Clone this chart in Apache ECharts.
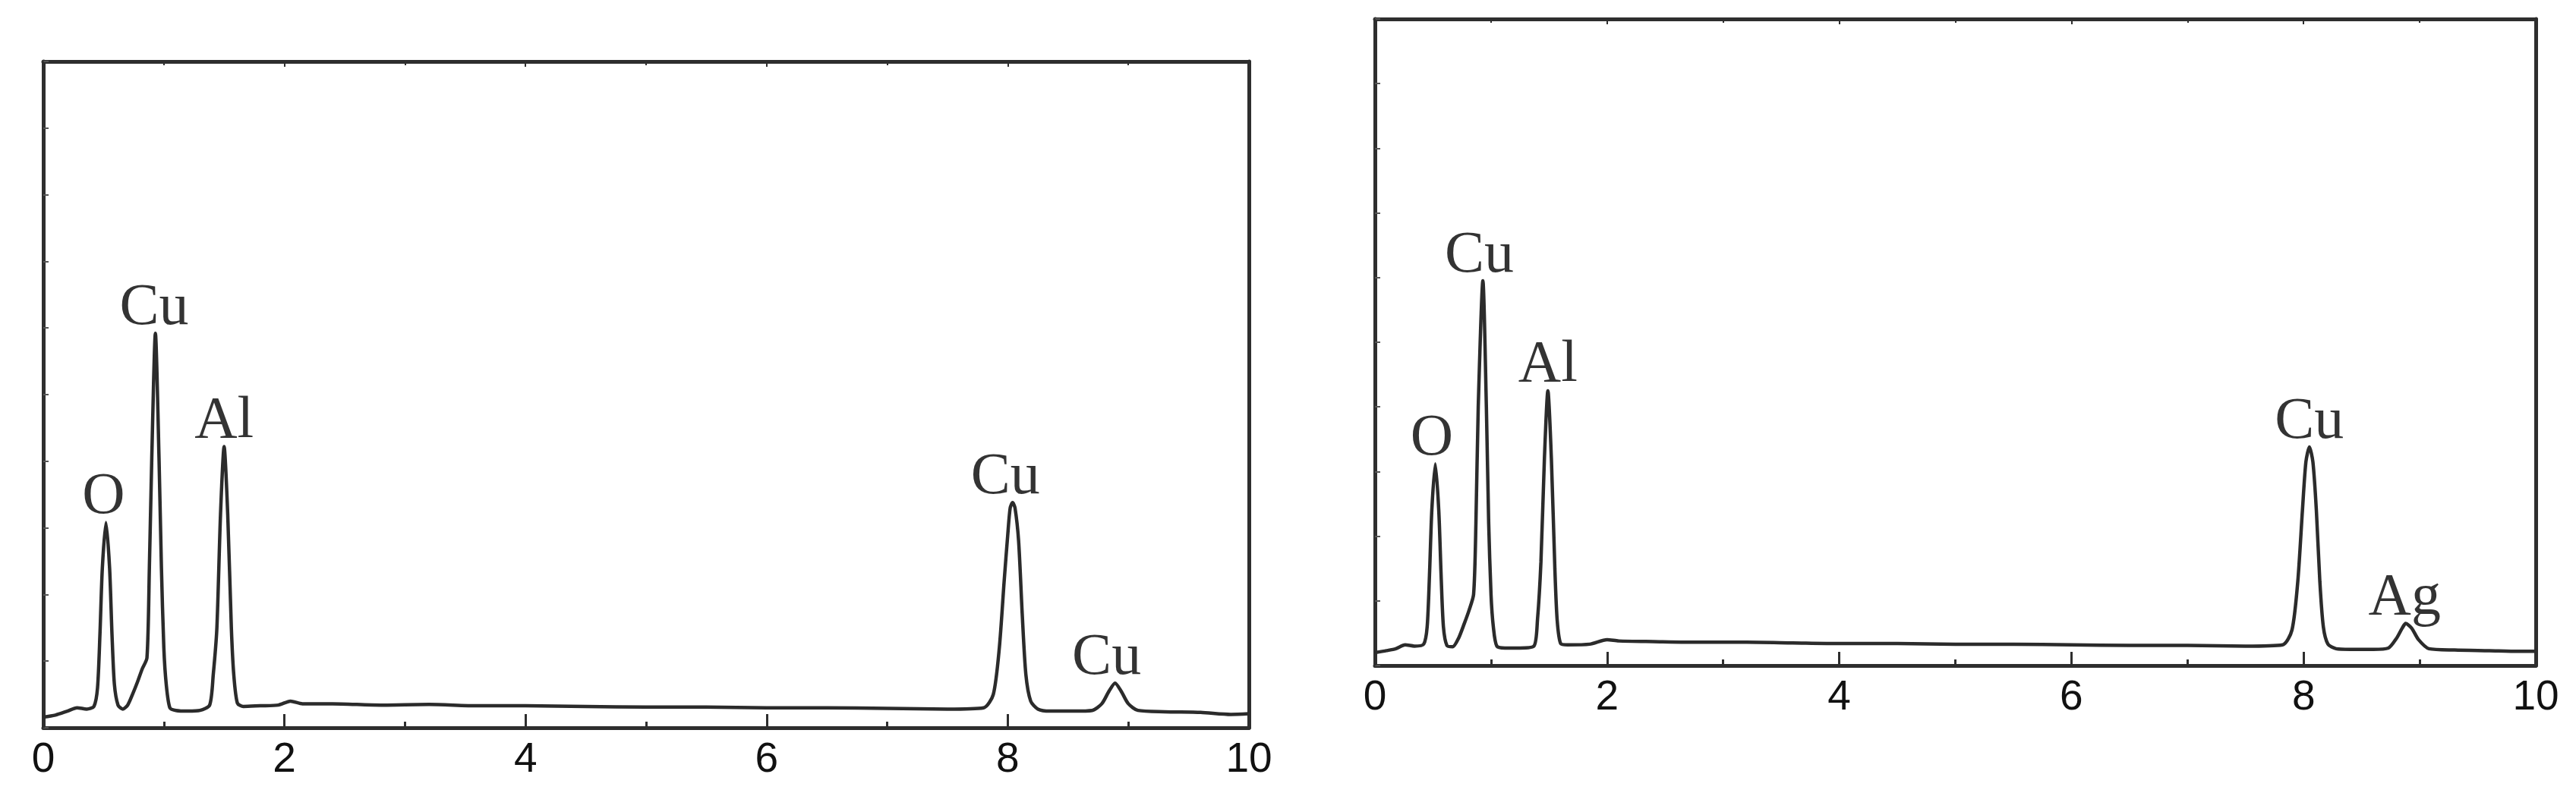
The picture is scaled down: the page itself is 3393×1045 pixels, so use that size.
<!DOCTYPE html>
<html>
<head>
<meta charset="utf-8">
<script src="https://cdn.jsdelivr.net/npm/echarts@6/dist/echarts.min.js"></script>
<style>
  html, body { margin: 0; padding: 0; background: #fff; }
  #chart { width: 3393px; height: 1045px; }
</style>
</head>
<body>
<div id="chart"></div>
<script>
// energy (keV) / relative counts
var leftEnergy = [0.00, 0.10, 0.20, 0.28, 0.36, 0.42, 0.45, 0.47, 0.49, 0.52, 0.55, 0.57, 0.59, 0.62, 0.66, 0.70, 0.74, 0.78, 0.82, 0.86, 0.88, 0.90, 0.93, 0.96, 0.98, 1.00, 1.02, 1.05, 1.10, 1.20, 1.30, 1.38, 1.41, 1.44, 1.47, 1.50, 1.53, 1.56, 1.58, 1.61, 1.66, 1.80, 1.95, 2.05, 2.15, 2.40, 2.80, 3.20, 3.60, 4.00, 4.50, 5.00, 5.50, 6.00, 6.50, 7.00, 7.50, 7.80, 7.88, 7.93, 7.97, 8.00, 8.02, 8.04, 8.06, 8.09, 8.12, 8.15, 8.19, 8.25, 8.35, 8.55, 8.70, 8.78, 8.84, 8.89, 8.94, 9.00, 9.08, 9.30, 9.60, 9.85, 10.00];
var leftCounts = [1.6, 1.9, 2.5, 3.0, 2.8, 3.2, 6.0, 14.0, 24.0, 30.8, 24.0, 14.0, 6.5, 3.4, 2.8, 3.4, 5.0, 6.8, 8.8, 10.5, 24.0, 40.5, 59.2, 40.5, 24.0, 12.0, 6.5, 3.0, 2.6, 2.5, 2.6, 3.4, 8.0, 15.0, 32.0, 42.2, 32.0, 15.0, 8.0, 3.7, 3.2, 3.3, 3.4, 4.0, 3.6, 3.6, 3.4, 3.5, 3.3, 3.3, 3.2, 3.1, 3.1, 3.0, 3.0, 2.9, 2.8, 3.0, 5.0, 12.0, 22.0, 29.0, 33.0, 33.8, 33.0, 28.0, 17.0, 8.0, 4.0, 2.8, 2.5, 2.5, 2.6, 3.6, 5.5, 6.7, 5.5, 3.6, 2.6, 2.4, 2.3, 2.0, 2.1];

// right spectrum
var rightEnergy = [0.00, 0.10, 0.18, 0.26, 0.34, 0.42, 0.45, 0.47, 0.49, 0.52, 0.55, 0.57, 0.59, 0.62, 0.67, 0.72, 0.77, 0.81, 0.85, 0.87, 0.89, 0.93, 0.96, 0.98, 1.00, 1.02, 1.05, 1.12, 1.25, 1.37, 1.40, 1.43, 1.46, 1.49, 1.52, 1.55, 1.57, 1.60, 1.66, 1.85, 2.00, 2.10, 2.40, 2.80, 3.20, 3.60, 4.00, 4.50, 5.00, 5.50, 6.00, 6.50, 7.00, 7.50, 7.82, 7.90, 7.95, 7.99, 8.02, 8.05, 8.08, 8.11, 8.14, 8.17, 8.21, 8.28, 8.40, 8.60, 8.73, 8.80, 8.85, 8.88, 8.93, 8.99, 9.08, 9.30, 9.60, 9.85, 10.00];
var rightCounts = [2.0, 2.3, 2.6, 3.2, 3.0, 3.3, 6.0, 14.0, 24.0, 31.2, 24.0, 14.0, 6.0, 3.1, 2.9, 4.2, 6.5, 8.5, 11.0, 22.0, 40.0, 59.5, 40.0, 22.0, 11.0, 6.0, 3.0, 2.7, 2.7, 3.0, 7.0, 16.0, 32.0, 42.5, 32.0, 15.0, 7.0, 3.4, 3.2, 3.3, 4.0, 3.8, 3.7, 3.6, 3.6, 3.5, 3.4, 3.4, 3.3, 3.3, 3.2, 3.1, 3.1, 3.0, 3.2, 5.5, 13.0, 24.0, 31.5, 33.8, 31.5, 24.0, 13.0, 6.0, 3.3, 2.6, 2.5, 2.5, 2.7, 4.2, 5.8, 6.5, 5.8, 4.0, 2.6, 2.4, 2.3, 2.2, 2.2];

// peak labels (placed just above each peak)
var leftLabelNames = ['O', 'Cu', 'Al', 'Cu', 'Cu'];
var leftLabelEnergy = [0.50, 0.92, 1.50, 7.98, 8.82];
var leftLabelCounts = [30.8, 59.2, 42.2, 33.8, 6.7];

var rightLabelNames = ['O', 'Cu', 'Al', 'Cu', 'Ag'];
var rightLabelEnergy = [0.49, 0.90, 1.49, 8.05, 8.87];
var rightLabelCounts = [31.2, 59.5, 42.5, 33.8, 6.5];

var xTicks = [0, 2, 4, 6, 8, 10];

function zip(a, b) {
  return a.map(function (v, i) { return [v, b[i]]; });
}
function labelData(xs, ys, names) {
  return xs.map(function (v, i) { return { value: [v, ys[i]], name: names[i] }; });
}

var lineColor = '#2b2b2b';
var axisColor = '#2e2e2e';

function bottomAxis(grid) {
  return {
    type: 'value', gridIndex: grid, position: 'bottom',
    min: 0, max: 10, interval: 2,
    axisLine: { show: true, onZero: false, lineStyle: { color: axisColor, width: 5 } },
    axisTick: { show: true, inside: true, length: 18, lineStyle: { color: axisColor, width: 3 } },
    minorTick: { show: true, splitNumber: 2, length: 8, lineStyle: { color: axisColor, width: 3 } },
    splitLine: { show: false },
    axisLabel: {
      show: true, margin: 15, color: '#111',
      fontFamily: 'Liberation Sans', fontSize: 55,
      formatter: function (v) { return xTicks.indexOf(v) >= 0 ? String(v) : ''; }
    }
  };
}
function topAxis(grid) {
  return {
    type: 'value', gridIndex: grid, position: 'top',
    min: 0, max: 10, interval: 2,
    axisLine: { show: true, onZero: false, lineStyle: { color: axisColor, width: 5 } },
    axisTick: { show: true, inside: true, length: 7, lineStyle: { color: axisColor, width: 2 } },
    minorTick: { show: true, splitNumber: 2, length: 5, lineStyle: { color: axisColor, width: 2 } },
    splitLine: { show: false },
    axisLabel: { show: false }
  };
}
function leftAxis(grid) {
  return {
    type: 'value', gridIndex: grid, position: 'left',
    min: 0, max: 100, interval: 10,
    axisLine: { show: true, onZero: false, lineStyle: { color: axisColor, width: 5 } },
    axisTick: { show: true, inside: true, length: 7, lineStyle: { color: '#555', width: 2 } },
    splitLine: { show: false },
    axisLabel: { show: false }
  };
}
function rightAxis(grid) {
  return {
    type: 'value', gridIndex: grid, position: 'right',
    min: 0, max: 100,
    axisLine: { show: true, onZero: false, lineStyle: { color: axisColor, width: 5 } },
    axisTick: { show: false },
    splitLine: { show: false },
    axisLabel: { show: false }
  };
}

function spectrum(grid, data) {
  return {
    type: 'line', xAxisIndex: grid * 2, yAxisIndex: grid * 2,
    data: data, showSymbol: false, smooth: 0.25,
    lineStyle: { color: lineColor, width: 4.5 },
    silent: true
  };
}
function peakLabels(grid, data) {
  return {
    type: 'scatter', xAxisIndex: grid * 2, yAxisIndex: grid * 2,
    data: data, symbolSize: 0, silent: true, z: 5,
    label: {
      show: true, position: 'top', distance: -6,
      formatter: '{b}', color: '#000',
      fontFamily: 'Liberation Serif', fontSize: 78
    }
  };
}

var myChart = echarts.init(document.getElementById('chart'), null, { renderer: 'canvas' });

var option = {
  backgroundColor: '#fff',
  animation: false,
  grid: [
    { left: 57, top: 81, width: 1588, height: 878 },
    { left: 1811, top: 25, width: 1529, height: 852 }
  ],
  xAxis: [bottomAxis(0), topAxis(0), bottomAxis(1), topAxis(1)],
  yAxis: [leftAxis(0), rightAxis(0), leftAxis(1), rightAxis(1)],
  series: [
    spectrum(0, zip(leftEnergy, leftCounts)),
    spectrum(1, zip(rightEnergy, rightCounts)),
    peakLabels(0, labelData(leftLabelEnergy, leftLabelCounts, leftLabelNames)),
    peakLabels(1, labelData(rightLabelEnergy, rightLabelCounts, rightLabelNames))
  ]
};
myChart.setOption(option);
</script>
</body>
</html>
